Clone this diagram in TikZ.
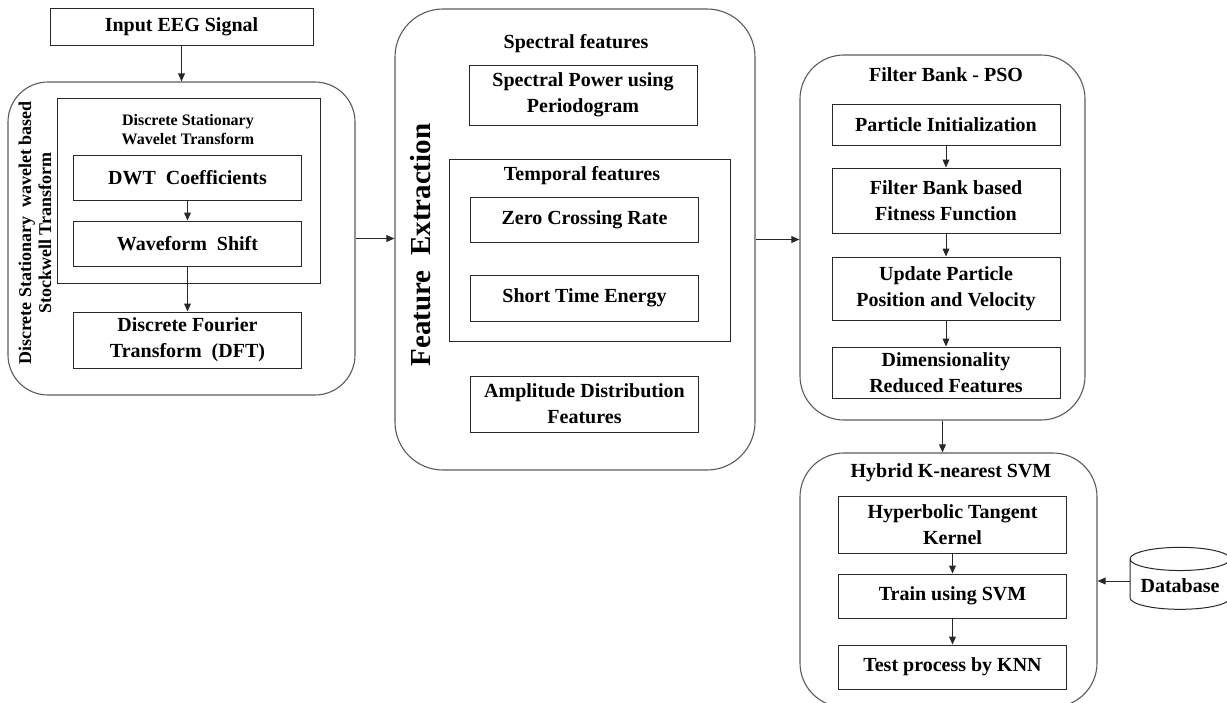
\documentclass[tikz,border=0pt]{standalone}
\usepackage{fontspec}
\setmainfont{Liberation Serif}
\usepackage{tikz}
\usetikzlibrary{positioning, arrows.meta, shapes.geometric}
\definecolor{ee-line}{RGB}{40,40,40}
\definecolor{ee-round}{RGB}{90,90,90}
\tikzset{
  ee@step/.style={
    draw=ee-line, line width=0.5pt, minimum width=114pt, inner sep=1pt,
    align=center, font=\fontsize{10}{13}\selectfont\bfseries
  },
  ee@frame/.style={draw=ee-line, line width=0.5pt, inner sep=0pt},
  ee@group/.style={draw=ee-round, line width=0.55pt, rounded corners=22pt, inner sep=0pt},
  ee@title/.style={align=center, inner sep=0pt, font=\fontsize{10}{13}\selectfont\bfseries},
  ee@small/.style={align=center, inner sep=0pt, font=\fontsize{8}{9.5}\selectfont\bfseries},
  ee@side/.style={align=center, inner sep=0pt, rotate=90, font=\fontsize{9}{10}\selectfont\bfseries},
  ee@store/.style={
    draw=ee-line, line width=0.5pt, cylinder, shape border rotate=90, aspect=0.28,
    minimum width=50pt, minimum height=31pt, inner sep=1pt,
    font=\fontsize{10}{13}\selectfont\bfseries
  },
  ee@arr/.style={-{Triangle[length=4pt,width=3.4pt]}, line width=0.5pt, ee-line},
}
\begin{document}
\begin{tikzpicture}[x=0.5pt, y=-0.5pt]
  \useasboundingbox (0,0) rectangle (1227,702);
  \node[ee@step, minimum width=131.5pt, minimum height=18.5pt] (input) at (181.5,26.5) {Input EEG Signal};
  \node[ee@group, rounded corners=20pt, minimum width=173.5pt, minimum height=156.5pt] (dsw) at (181.5,238.5) {};
  \node[ee@frame, minimum width=131.5pt, minimum height=92.5pt] (swt) at (188.5,190.5) {};
  \node[ee@small] (swttitle) at (188,130) {Discrete Stationary\\Wavelet Transform};
  \node[ee@step, minimum height=22.5pt] (dwt) at (187.5,177.5) {DWT\ \ Coefficients};
  \node[ee@step, minimum height=22.5pt, below=10pt of dwt] (wshift) {Waveform\ \ Shift};
  \node[ee@step, minimum height=28pt, below=22.5pt of wshift] (dft) {Discrete Fourier\\Transform\ \ (DFT)};
  \node[ee@side] (dswlabel) at (35,233) {Discrete Stationary\ \ wavelet based\\Stockwell Transform};

  \node[ee@group, rounded corners=24pt, minimum width=180pt, minimum height=230.5pt] (feat) at (575,239.5) {};
  \node[ee@side, font=\fontsize{14.5}{16}\selectfont\bfseries] (featlabel) at (421,245) {Feature\ \ Extraction};
  \node[ee@title] (spectitle) at (576,44) {Spectral features};
  \node[ee@step, minimum height=30pt] (spow) at (583,95) {Spectral Power using\\Periodogram};
  \node[ee@frame, minimum width=140.5pt, minimum height=91pt] (temp) at (589.5,250) {};
  \node[ee@title] (temptitle) at (582,176) {Temporal features};
  \node[ee@step, minimum height=22.5pt] (zcr) at (584.5,219.5) {Zero Crossing Rate};
  \node[ee@step, minimum height=23pt, below=16pt of zcr] (ste) {Short Time Energy};
  \node[ee@step, minimum height=28pt] (amp) at (584.5,404) {Amplitude Distribution\\Features};

  \node[ee@group, minimum width=142.5pt, minimum height=182.5pt] (pso) at (942.5,237.5) {};
  \node[ee@title] (psotitle) at (946,75) {Filter Bank - PSO};
  \node[ee@step, minimum height=20.5pt] (pinit) at (946,124.5) {Particle Initialization};
  \node[ee@step, minimum height=32.5pt, below=11pt of pinit] (fbank) {Filter Bank based\\Fitness Function};
  \node[ee@step, minimum height=31.5pt, below=11.5pt of fbank] (update) {Update Particle\\Position and Velocity};
  \node[ee@step, minimum height=25.5pt, below=13pt of update] (dimred) {Dimensionality\\Reduced Features};

  \node[ee@group, minimum width=148.5pt, minimum height=127pt] (svm) at (948.5,580) {};
  \node[ee@title] (svmtitle) at (951,473) {Hybrid K-nearest SVM};
  \node[ee@step, minimum height=28.5pt] (hyp) at (952.5,524.5) {Hyperbolic Tangent\\Kernel};
  \node[ee@step, minimum height=22pt, below=10pt of hyp] (train) {Train using SVM};
  \node[ee@step, minimum height=22pt, below=13pt of train] (test) {Test process by KNN};
  \node[ee@store] (db) at (1180,586) {Database};

  \draw[ee@arr] (input) -- (dsw);
  \draw[ee@arr] (dwt) -- (wshift);
  \draw[ee@arr] (wshift) -- (dft);
  \draw[ee@arr] (dsw.east) -- (dsw.east -| feat.west);
  \draw[ee@arr] (feat.east) -- (feat.east -| pso.west);
  \draw[ee@arr] (pinit) -- (fbank);
  \draw[ee@arr] (fbank) -- (update);
  \draw[ee@arr] (update) -- (dimred);
  \draw[ee@arr] (pso.south) -- (pso.south |- svm.north);
  \draw[ee@arr] (hyp) -- (train);
  \draw[ee@arr] (train) -- (test);
  \draw[ee@arr] ([yshift=2.5pt]db.west) -- ([yshift=2.5pt]db.west -| svm.east);
\end{tikzpicture}
\end{document}
